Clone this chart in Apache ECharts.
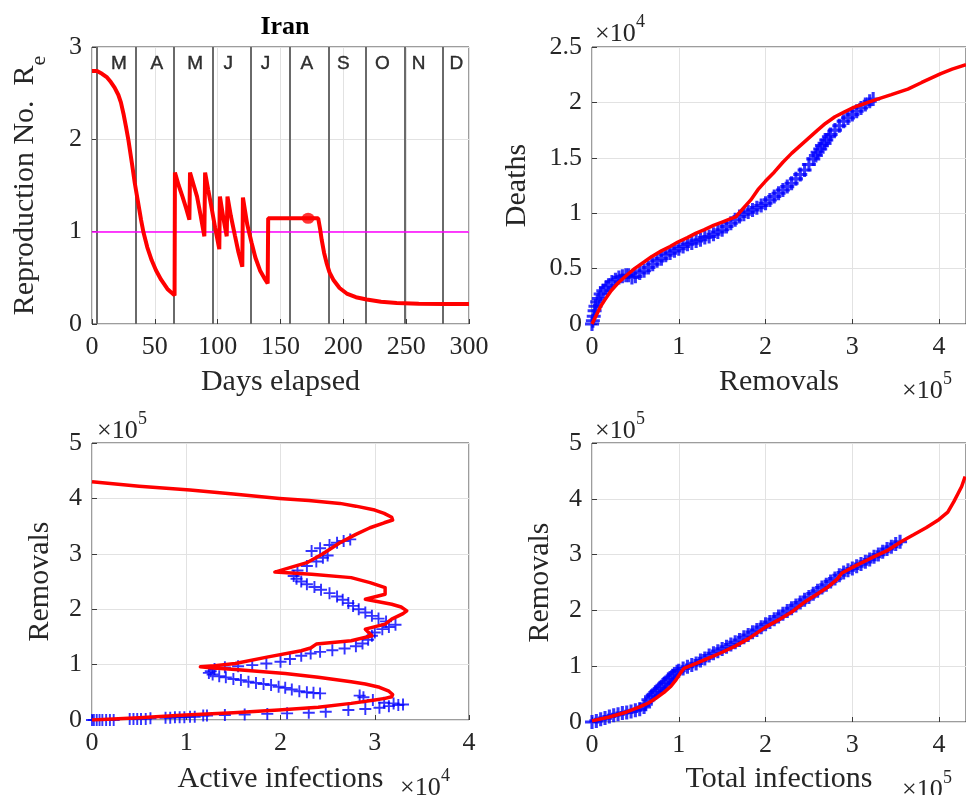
<!DOCTYPE html>
<html>
<head>
<meta charset="utf-8">
<script src="https://cdn.jsdelivr.net/npm/echarts@6/dist/echarts.min.js"></script>
<style>
html,body{margin:0;padding:0;background:#fff;}
#chart{width:966px;height:795px;}
</style>
</head>
<body>
<div id="chart"></div>
<script>
// ---------------- DATA ----------------
// Panel 1: effective reproduction number vs days elapsed (model)
const reCurve = [
  [0,2.74],[4,2.74],[8,2.71],[12,2.67],[15,2.62],[18,2.56],[21,2.48],[23,2.40],[25,2.28],[27,2.14],[29,1.99],[32,1.72],[34,1.53],[37,1.29],[39,1.13],[41,0.99],[44,0.83],[47.5,0.69],[51,0.58],[55,0.48],[60,0.38],[65.7,0.31],
  [66,1.64],[69,1.50],[72,1.38],[75,1.25],[77.5,1.13],
  [78,1.64],[81,1.50],[83.6,1.38],[86.5,1.17],[89.4,0.95],
  [90,1.64],[92.5,1.45],[95,1.27],[98,1.04],[101.3,0.81],
  [101.8,1.38],[104.5,1.15],[107.2,0.95],
  [107.8,1.38],[110.5,1.17],[113.7,0.96],[116.5,0.78],[119.6,0.62],
  [120.1,1.37],[123.5,1.08],[127,0.88],[130,0.72],[133.7,0.58],[137,0.50],[139.8,0.44],
  [140.2,1.145],[150,1.145],[160,1.145],[170,1.145],[180,1.145],
  [181.5,1.03],[182.8,0.91],[184.7,0.77],[186.7,0.66],[189,0.56],[192,0.48],[197,0.39],[202.7,0.33],[210,0.29],[218.6,0.265],[230,0.24],[242.5,0.228],[260,0.22],[280,0.217],[300,0.217]
];
const reCurrent = [[172, 1.145]];
const reThreshold = 1;
const monthStarts = [4, 35, 65, 96, 126, 157, 188, 218, 249, 279];
const monthLabels = ['M','A','M','J','J','A','S','O','N','D'];
const monthLabelDays = [21.5, 51.5, 82, 108.5, 138, 171, 200, 231, 260, 290];
const monthLabelLevel = 2.82;

// Panel 2: Deaths (x1e4) vs Removals (x1e5)
const deathsModel = [
  [0,0.0],[0.05,0.08],[0.1,0.16],[0.15,0.22],[0.22,0.30],[0.30,0.37],[0.4,0.44],[0.49,0.50],[0.6,0.56],[0.69,0.61],[0.8,0.66],[0.9,0.70],[0.99,0.74],[1.1,0.78],[1.2,0.82],[1.29,0.85],[1.4,0.89],[1.5,0.92],[1.6,0.95],[1.66,0.97],
  [1.75,1.05],[1.83,1.12],[1.92,1.22],[2.0,1.29],[2.1,1.37],[2.2,1.46],[2.3,1.54],[2.4,1.61],[2.5,1.68],[2.6,1.75],[2.69,1.81],[2.8,1.87],[2.9,1.91],[3.0,1.95],[3.07,1.97],[3.18,2.00],[3.29,2.03],[3.45,2.07],[3.64,2.12],[3.8,2.18],[4.02,2.26],[4.15,2.30],[4.31,2.34]
];
const deathsData = [
  [0.00,0.00],[0.01,0.03],[0.02,0.07],[0.03,0.12],[0.04,0.16],[0.06,0.20],[0.08,0.23],[0.10,0.27],[0.13,0.30],[0.16,0.33],[0.19,0.35],[0.23,0.38],[0.27,0.40],[0.31,0.42],[0.35,0.43],[0.39,0.44],[0.42,0.44],
  [0.46,0.42],[0.50,0.43],[0.55,0.46],[0.60,0.48],[0.65,0.51],[0.70,0.54],[0.75,0.57],[0.80,0.59],[0.85,0.62],[0.90,0.64],[0.95,0.66],[1.00,0.68],[1.05,0.70],[1.10,0.72],[1.15,0.73],[1.20,0.75],[1.25,0.76],[1.30,0.78],[1.35,0.79],[1.40,0.81],[1.45,0.83],[1.50,0.85],[1.55,0.88],[1.60,0.91],[1.65,0.94],[1.70,0.97],[1.75,0.99],[1.80,1.01],[1.85,1.03],[1.90,1.05],[1.95,1.07],[2.00,1.09],[2.05,1.12],[2.10,1.15],[2.15,1.18],[2.20,1.21],[2.25,1.24],[2.30,1.27],[2.35,1.31],[2.40,1.35],[2.45,1.39],[2.50,1.44],[2.55,1.49],[2.58,1.52],[2.60,1.55],[2.63,1.58],[2.65,1.61],[2.68,1.63],[2.70,1.66],[2.73,1.69],[2.75,1.71],[2.80,1.75],[2.85,1.79],[2.90,1.83],[2.95,1.86],[3.00,1.89],[3.05,1.92],[3.10,1.95],[3.15,1.98],[3.20,2.01],[3.24,2.03]
];

// Panel 3: Removals (x1e5) vs Active infections (x1e4)
const activeModel = [
  [0,0],[0.5,0.04],[0.99,0.09],[1.5,0.13],[1.98,0.18],[2.4,0.23],[2.75,0.30],[3.0,0.36],[3.11,0.39],[3.18,0.42],[3.19,0.46],[3.15,0.52],[3.05,0.59],[2.9,0.65],[2.75,0.69],[2.4,0.77],[2.05,0.84],[1.52,0.91],[1.25,0.945],[1.15,0.96],
  [1.3,0.98],[1.52,1.02],[1.87,1.14],[2.22,1.25],[2.32,1.30],[2.38,1.37],[2.75,1.43],[2.97,1.52],[2.90,1.64],[3.11,1.73],[3.18,1.82],[3.3,1.92],[3.34,1.97],[3.28,2.04],[3.18,2.09],[2.90,2.18],[3.11,2.27],[3.11,2.39],[2.95,2.48],[2.75,2.57],[2.33,2.63],[1.94,2.67],
  [2.1,2.75],[2.28,2.84],[2.45,3.0],[2.63,3.20],[2.8,3.35],[2.95,3.47],[3.1,3.56],[3.19,3.61],[3.18,3.66],[3.1,3.73],[3.0,3.79],[2.8,3.86],[2.63,3.91],[2.3,3.96],[1.99,4.0],[1.5,4.08],[1.04,4.15],[0.5,4.22],[0,4.30]
];
const activeData = [
  [0.00,0.00],[0.02,0.00],[0.05,0.00],[0.08,0.00],[0.11,0.00],[0.15,0.00],[0.19,0.00],[0.23,0.00],
  [0.40,0.02],[0.44,0.02],[0.48,0.02],[0.52,0.02],[0.57,0.02],[0.62,0.03],
  [0.78,0.04],[0.83,0.04],[0.88,0.05],[0.93,0.05],[0.98,0.05],[1.04,0.06],[1.09,0.06],
  [1.18,0.08],[1.22,0.08],[1.41,0.09],[1.62,0.10],[1.86,0.11],[2.07,0.12],[2.30,0.13],[2.48,0.15],[2.72,0.18],[2.90,0.20],[3.05,0.22],[3.15,0.25],[3.25,0.27],[3.30,0.28],[3.20,0.30],[3.10,0.31],[2.98,0.36],[2.88,0.41],[2.84,0.44],
  [2.42,0.48],[2.35,0.49],[2.28,0.50],[2.20,0.52],[2.12,0.55],[2.05,0.58],[1.98,0.60],[1.90,0.63],[1.82,0.65],[1.74,0.67],[1.66,0.69],[1.58,0.72],[1.50,0.74],[1.42,0.77],[1.35,0.79],[1.28,0.82],[1.24,0.85],[1.26,0.88],[1.30,0.92],
  [1.41,0.95],[1.55,0.97],[1.70,0.99],[1.85,1.02],[2.00,1.05],[2.10,1.10],[2.22,1.16],[2.32,1.20],[2.42,1.23],[2.55,1.26],[2.68,1.29],[2.80,1.33],[2.87,1.38],[2.93,1.45],[2.97,1.52],[3.00,1.58],[3.08,1.64],[3.15,1.68],[3.22,1.72],
  [3.12,1.78],[3.04,1.83],[2.97,1.88],[2.90,1.94],[2.83,2.00],[2.77,2.06],[2.72,2.11],[2.66,2.17],[2.60,2.23],[2.52,2.29],[2.43,2.35],[2.36,2.40],[2.28,2.45],[2.22,2.50],[2.17,2.55],[2.14,2.60],
  [2.18,2.70],[2.28,2.78],[2.38,2.86],[2.45,2.93],[2.50,2.97],[2.33,3.05],[2.42,3.10],[2.52,3.16],[2.60,3.20],[2.67,3.23],[2.74,3.26]
];

// Panel 4: Removals (x1e5) vs Total infections (x1e5)
const totalModel = [
  [0,0.02],[0.2,0.09],[0.4,0.18],[0.55,0.27],[0.65,0.34],[0.74,0.43],[0.83,0.53],[0.91,0.64],[0.97,0.76],[1.02,0.88],[1.06,0.96],[1.2,1.05],[1.35,1.15],[1.5,1.25],[1.65,1.36],[1.8,1.49],[2.0,1.70],[2.15,1.83],[2.3,1.97],[2.46,2.16],[2.6,2.30],[2.72,2.42],[2.82,2.55],[2.88,2.67],[3.0,2.77],[3.22,2.94],[3.4,3.07],[3.56,3.23],[3.7,3.35],[3.85,3.48],[4.0,3.63],[4.1,3.76],[4.17,3.95],[4.22,4.1],[4.26,4.22],[4.3,4.4]
];
const totalData = [
  [0.00,0.00],[0.05,0.02],[0.10,0.05],[0.15,0.07],[0.20,0.10],[0.25,0.12],[0.30,0.14],[0.35,0.16],[0.40,0.17],[0.45,0.19],[0.50,0.21],[0.55,0.23],[0.60,0.27],[0.62,0.32],[0.65,0.40],[0.68,0.45],[0.70,0.48],[0.73,0.53],[0.75,0.56],[0.78,0.60],[0.80,0.63],[0.83,0.68],[0.85,0.71],[0.88,0.76],[0.90,0.79],[0.93,0.83],[0.95,0.86],[0.98,0.90],[1.00,0.92],[1.05,0.96],[1.10,0.99],[1.15,1.02],[1.20,1.05],[1.25,1.10],[1.30,1.14],[1.35,1.19],[1.40,1.23],[1.45,1.27],[1.50,1.31],[1.55,1.35],[1.60,1.39],[1.65,1.43],[1.70,1.47],[1.75,1.52],[1.80,1.56],[1.85,1.61],[1.90,1.65],[1.95,1.70],[2.00,1.75],[2.05,1.79],[2.10,1.84],[2.15,1.89],[2.20,1.94],[2.25,1.99],[2.30,2.04],[2.35,2.09],[2.40,2.14],[2.45,2.19],[2.50,2.24],[2.55,2.30],[2.60,2.35],[2.65,2.41],[2.70,2.46],[2.75,2.52],[2.80,2.57],[2.85,2.63],[2.90,2.68],[2.95,2.72],[3.00,2.75],[3.05,2.79],[3.10,2.83],[3.15,2.87],[3.20,2.91],[3.25,2.96],[3.30,3.00],[3.35,3.05],[3.40,3.10],[3.45,3.14],[3.50,3.19],[3.55,3.23]
];

// ---------------- STYLE ----------------
const SERIF = 'Liberation Serif, Times New Roman, serif';
const SANS = 'Liberation Sans, Arial, sans-serif';
const INK = '#262626';
const PLUS_THIN = 'path://M-1,-0.16L-0.16,-0.16L-0.16,-1L0.16,-1L0.16,-0.16L1,-0.16L1,0.16L0.16,0.16L0.16,1L-0.16,1L-0.16,0.16L-1,0.16Z';
const PLUS_BOLD = 'path://M-1,-0.22L-0.22,-0.22L-0.22,-1L0.22,-1L0.22,-0.22L1,-0.22L1,0.22L0.22,0.22L0.22,1L-0.22,1L-0.22,0.22L-1,0.22Z';

function gridBox(left, top, w, h) {
  return {left: left, top: top, width: w, height: h, show: true,
    borderColor: '#3a3a3a', borderWidth: 1, backgroundColor: '#fff', containLabel: false};
}
function axis(extra) {
  return Object.assign({
    type: 'value',
    axisLine: {show: false},
    axisTick: {show: true, inside: true, length: 5, lineStyle: {color: '#3a3a3a'}},
    splitLine: {show: true, lineStyle: {color: '#e2e2e2', width: 1}},
    axisLabel: {fontFamily: SERIF, fontSize: 26, color: INK, margin: 10},
    nameLocation: 'middle',
    nameTextStyle: {fontFamily: SERIF, fontSize: 30, color: INK}
  }, extra);
}

const chart = echarts.init(document.getElementById('chart'), null, {renderer: 'canvas'});

function mult(x, y, exp) {
  return [
    {type: 'text', x: x, y: y, style: {text: '×10', font: '26px ' + SERIF, fill: INK, textVerticalAlign: 'middle', verticalAlign: 'middle'}},
    {type: 'text', x: x + 41, y: y - 12, style: {text: exp, font: '18px ' + SERIF, fill: INK, textVerticalAlign: 'middle', verticalAlign: 'middle'}}
  ];
}

const option = {
  animation: false,
  backgroundColor: '#fff',
  title: {
    text: 'Iran', left: 280, top: 9, textAlign: 'center',
    textStyle: {fontFamily: SERIF, fontSize: 26, fontWeight: 'bold', color: '#000'}
  },
  grid: [
    gridBox(92, 47, 377, 277),
    gridBox(592, 47, 377, 277),
    gridBox(92, 443, 377, 279),
    gridBox(592, 443, 377, 279)
  ],
  xAxis: [
    axis({gridIndex: 0, min: 0, max: 300, interval: 50, name: 'Days elapsed', nameGap: 43}),
    axis({gridIndex: 1, min: 0, max: 4.31, interval: 1, name: 'Removals', nameGap: 43,
      axisLabel: {fontFamily: SERIF, fontSize: 26, color: INK, margin: 10, showMaxLabel: false}}),
    axis({gridIndex: 2, min: 0, max: 4, interval: 1, name: 'Active infections', nameGap: 44}),
    axis({gridIndex: 3, min: 0, max: 4.31, interval: 1, name: 'Total infections', nameGap: 42,
      axisLabel: {fontFamily: SERIF, fontSize: 26, color: INK, margin: 10, showMaxLabel: false}})
  ],
  yAxis: [
    axis({gridIndex: 0, min: 0, max: 3, interval: 1, name: '{m|Reproduction No.  R}{s|e}', nameGap: 52,
      nameTextStyle: {fontFamily: SERIF, fontSize: 30, color: INK,
        rich: {
          m: {fontFamily: SERIF, fontSize: 30, lineHeight: 30, color: INK, verticalAlign: 'top'},
          s: {fontFamily: SERIF, fontSize: 22, lineHeight: 22, color: INK, verticalAlign: 'top', padding: [18, 0, 0, 0]}
        }}}),
    axis({gridIndex: 1, min: 0, max: 2.5, interval: 0.5, name: 'Deaths', nameGap: 60}),
    axis({gridIndex: 2, min: 0, max: 5, interval: 1, name: 'Removals', nameGap: 37}),
    axis({gridIndex: 3, min: 0, max: 5, interval: 1, name: 'Removals', nameGap: 37})
  ],
  graphic: [].concat(
    mult(595, 34, '4'),
    mult(902, 391, '5'),
    mult(97, 431, '5'),
    mult(400, 788, '4'),
    mult(595, 431, '5'),
    mult(902, 790, '5')
  ),
  series: [
    // month separators and R=1 threshold
    {
      type: 'line', xAxisIndex: 0, yAxisIndex: 0, data: [], silent: true, z: 1,
      markLine: {
        silent: true, symbol: ['none', 'none'], label: {show: false}, animation: false,
        lineStyle: {color: '#6a6a6a', width: 2, type: 'solid'},
        data: monthStarts.map(d => ({xAxis: d}))
      }
    },
    {
      type: 'line', xAxisIndex: 0, yAxisIndex: 0, data: [], silent: true, z: 2,
      markLine: {
        silent: true, symbol: ['none', 'none'], label: {show: false}, animation: false,
        lineStyle: {color: '#ff00ff', width: 1.5, type: 'solid'},
        data: [{yAxis: reThreshold}]
      }
    },
    {
      type: 'scatter', xAxisIndex: 0, yAxisIndex: 0, symbol: 'circle', symbolSize: 1, silent: true, z: 7,
      itemStyle: {color: 'transparent'},
      data: monthLabelDays.map((d, i) => ({value: [d, monthLabelLevel], name: monthLabels[i]})),
      label: {show: true, position: 'inside', formatter: '{b}', fontFamily: SANS, fontSize: 19,
        color: '#000', textBorderColor: '#000', textBorderWidth: 0.4}
    },
    {
      type: 'line', xAxisIndex: 0, yAxisIndex: 0, data: reCurve, symbol: 'none', z: 5,
      lineStyle: {color: '#ff0000', width: 4}
    },
    {
      type: 'scatter', xAxisIndex: 0, yAxisIndex: 0, data: reCurrent, symbol: 'circle', symbolSize: [13, 11], z: 6,
      itemStyle: {color: '#ff0000'}
    },
    // panel 2
    {
      type: 'scatter', xAxisIndex: 1, yAxisIndex: 1, data: deathsData, symbol: PLUS_BOLD, symbolSize: 14, z: 4,
      itemStyle: {color: '#0000ff'}
    },
    {
      type: 'line', xAxisIndex: 1, yAxisIndex: 1, data: deathsModel, symbol: 'none', z: 5,
      lineStyle: {color: '#ff0000', width: 3.5}
    },
    // panel 3
    {
      type: 'scatter', xAxisIndex: 2, yAxisIndex: 2, data: activeData, symbol: PLUS_THIN, symbolSize: 12, z: 4,
      itemStyle: {color: '#0000ff'}
    },
    {
      type: 'line', xAxisIndex: 2, yAxisIndex: 2, data: activeModel, symbol: 'none', z: 5,
      lineStyle: {color: '#ff0000', width: 3.5, join: 'round'}
    },
    // panel 4
    {
      type: 'scatter', xAxisIndex: 3, yAxisIndex: 3, data: totalData, symbol: PLUS_BOLD, symbolSize: 14, z: 4,
      itemStyle: {color: '#0000ff'}
    },
    {
      type: 'line', xAxisIndex: 3, yAxisIndex: 3, data: totalModel, symbol: 'none', z: 5,
      lineStyle: {color: '#ff0000', width: 3.5}
    }
  ]
};
chart.setOption(option);
</script>
</body>
</html>
